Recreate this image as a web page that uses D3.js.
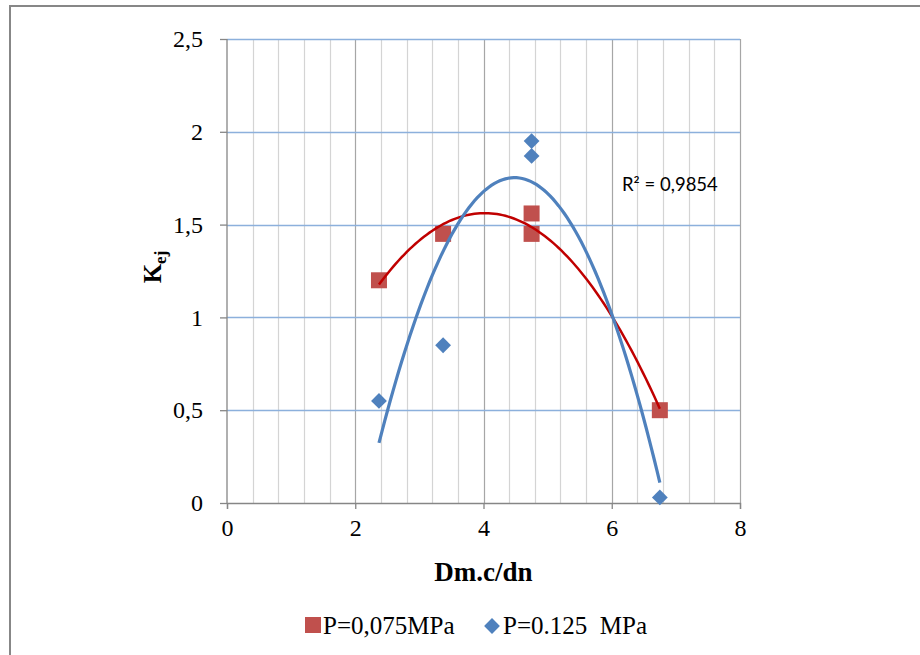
<!DOCTYPE html>
<html><head><meta charset="utf-8">
<script src="https://cdn.jsdelivr.net/npm/d3@7/dist/d3.min.js"></script>
<style>
html,body{margin:0;padding:0;background:#fff;}
svg{display:block;}
</style></head>
<body>
<script>
// ---- data ----
const seriesNames = ["P=0,075MPa", "P=0.125  MPa"];
const xRed = [2.37, 3.37, 4.75, 4.75, 6.75];
const yRed = [1.20, 1.45, 1.56, 1.45, 0.50];
const xBlue = [2.37, 3.37, 4.75, 4.75, 6.75];
const yBlue = [0.55, 0.85, 1.95, 1.87, 0.03];
const xTicks = [0, 2, 4, 6, 8];
const yTicks = [0, 0.5, 1, 1.5, 2, 2.5];
const yTickLabels = ["0", "0,5", "1", "1,5", "2", "2,5"];
const r2Label = "R² = 0,9854";

const W = 920, H = 655;
const svg = d3.select("body").append("svg").attr("width", W).attr("height", H);

// outer border
svg.append("path").attr("d", `M10,${H} L10,6 L${W},6`).attr("fill","none")
  .attr("stroke","#878787").attr("stroke-width",2);

const x = d3.scaleLinear().domain([0, 8]).range([227, 740]);
const y = d3.scaleLinear().domain([0, 2.5]).range([503, 39]);

// minor vertical grid
const minor = d3.range(1, 20).map(i => i * 0.4).filter(v => Math.abs(v/2 - Math.round(v/2)) > 1e-6);
svg.append("g").selectAll("line").data(minor).join("line")
  .attr("x1", d => Math.round(x(d)) + 0.5).attr("x2", d => Math.round(x(d)) + 0.5)
  .attr("y1", y(2.5)).attr("y2", y(0))
  .attr("stroke", "#d4d4d4").attr("stroke-width", 1.2);
// major vertical grid
svg.append("g").selectAll("line").data(xTicks.slice(1)).join("line")
  .attr("x1", d => Math.round(x(d)) + 0.5).attr("x2", d => Math.round(x(d)) + 0.5)
  .attr("y1", y(2.5)).attr("y2", y(0))
  .attr("stroke", "#a6a6a6").attr("stroke-width", 1.2);
// horizontal grid
svg.append("g").selectAll("line").data(yTicks.slice(1)).join("line")
  .attr("x1", x(0)).attr("x2", x(8))
  .attr("y1", d => Math.round(y(d)) + 0.5).attr("y2", d => Math.round(y(d)) + 0.5)
  .attr("stroke", "#8cb0dc").attr("stroke-width", 1.3);

// axes
const yAxis = d3.axisLeft(y).tickValues(yTicks).tickFormat((d, i) => yTickLabels[i]).tickSize(7).tickPadding(17);
const gy = svg.append("g").attr("transform", `translate(${x(0)},0)`).call(yAxis);
const xAxis = d3.axisBottom(x).tickValues(xTicks).tickFormat(d3.format("d")).tickSize(6).tickPadding(10);
const gx = svg.append("g").attr("transform", `translate(0,${y(0)})`).call(xAxis);
[gx, gy].forEach(g => {
  g.select(".domain").attr("stroke", "#868686").attr("stroke-width", 1.3);
  g.selectAll(".tick line").attr("stroke", "#868686").attr("stroke-width", 1.3);
  g.selectAll(".tick text").attr("font-family", "'Liberation Serif', 'Times New Roman', serif")
    .attr("font-size", 24).attr("fill", "#000");
});
gy.select(".domain").remove();
gy.append("line").attr("x1",0).attr("x2",0).attr("y1",y(0)).attr("y2",y(2.5)).attr("stroke","#868686").attr("stroke-width",1.3);

// quadratic least-squares fit
function polyfit2(xs, ys) {
  let S = [0,0,0,0,0], T = [0,0,0];
  xs.forEach((xv, i) => {
    for (let k = 0; k < 5; k++) S[k] += Math.pow(xv, k);
    for (let k = 0; k < 3; k++) T[k] += ys[i] * Math.pow(xv, k);
  });
  const A = [[S[0],S[1],S[2],T[0]],[S[1],S[2],S[3],T[1]],[S[2],S[3],S[4],T[2]]];
  for (let i = 0; i < 3; i++) {
    for (let j = i+1; j < 3; j++) {
      const f = A[j][i] / A[i][i];
      for (let k = i; k < 4; k++) A[j][k] -= f * A[i][k];
    }
  }
  const c = [0,0,0];
  for (let i = 2; i >= 0; i--) {
    let s = A[i][3];
    for (let k = i+1; k < 3; k++) s -= A[i][k] * c[k];
    c[i] = s / A[i][i];
  }
  return c;
}
function trend(xs, ys) {
  const c = polyfit2(xs, ys);
  const x0 = d3.min(xs), x1 = d3.max(xs);
  return d3.range(0, 101).map(i => { const xv = x0 + (x1 - x0) * i / 100; return [xv, c[0] + c[1]*xv + c[2]*xv*xv]; });
}
const line = d3.line().x(d => x(d[0])).y(d => y(d[1])).curve(d3.curveLinear);

const redPts = xRed.map((v, i) => [v, yRed[i]]);
const bluePts = xBlue.map((v, i) => [v, yBlue[i]]);
const diamondPath = d3.symbol().type(d3.symbolSquare).size(125);

// red markers
svg.append("g").selectAll("rect").data(redPts).join("rect")
  .attr("x", d => x(d[0]) - 8).attr("y", d => y(d[1]) - 8)
  .attr("width", 16).attr("height", 16).attr("fill", "#c0504d");
// red trend
svg.append("path").datum(trend(xRed, yRed)).attr("d", line)
  .attr("fill","none").attr("stroke","#c00000").attr("stroke-width",2.5);
// blue markers
svg.append("g").selectAll("path").data(bluePts).join("path")
  .attr("d", diamondPath)
  .attr("transform", d => `translate(${x(d[0])},${y(d[1])}) rotate(45)`)
  .attr("fill", "#4f81bd");
// blue trend
svg.append("path").datum(trend(xBlue, yBlue)).attr("d", line)
  .attr("fill","none").attr("stroke","#4f81bd").attr("stroke-width",3.2);

// R2 label
svg.append("text").attr("x", 622).attr("y", 191).text(r2Label)
  .attr("font-family","Lato, 'Open Sans', sans-serif").attr("font-size",18.5).attr("fill","#000");

// axis titles
svg.append("text").attr("x", x(4)).attr("y", 581).attr("text-anchor","middle")
  .attr("font-family","'Liberation Serif', serif").attr("font-weight","bold").attr("font-size",27)
  .text("Dm.c/dn");
const yl = svg.append("text").attr("transform","translate(161,267) rotate(-90)").attr("text-anchor","middle")
  .attr("font-family","'Liberation Serif', serif").attr("font-weight","bold").attr("font-size",25);
yl.append("tspan").text("K");
yl.append("tspan").attr("font-size",17).attr("dy",5).text("ej");

// legend
const lg = svg.append("g");
lg.append("rect").attr("x",305).attr("y",617).attr("width",16).attr("height",16).attr("fill","#c0504d");
lg.append("text").attr("x",323).attr("y",634).text(seriesNames[0])
  .attr("font-family","'Liberation Serif', serif").attr("font-size",25);
lg.append("path").attr("d", diamondPath)
  .attr("transform","translate(492,626) rotate(45)").attr("fill","#4f81bd");
lg.append("text").attr("x",503).attr("y",634).text(seriesNames[1]).style("white-space","pre")
  .attr("font-family","'Liberation Serif', serif").attr("font-size",25);
</script>
</body></html>
